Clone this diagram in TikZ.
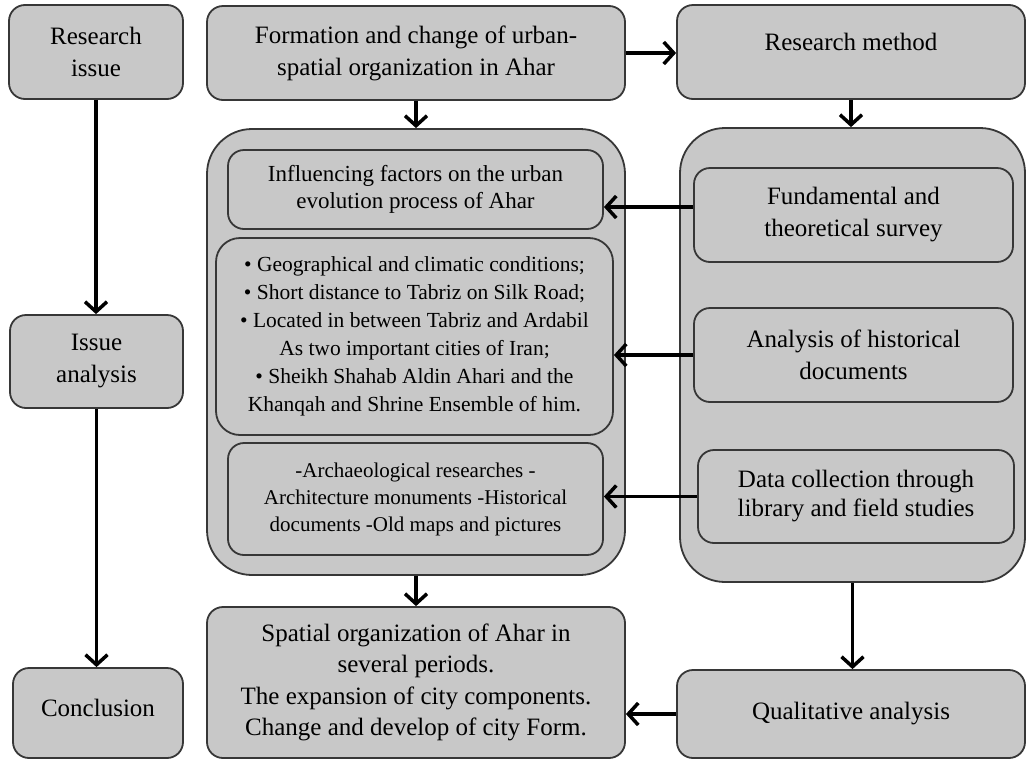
\documentclass[tikz,border=0pt]{standalone}
\usepackage{fontspec}
\setmainfont{Liberation Serif}
\usetikzlibrary{arrows.meta,calc}
\definecolor{boxfill}{RGB}{200,200,200}
\definecolor{boxline}{RGB}{55,55,55}
\begin{document}
\begin{tikzpicture}[x=1pt,y=-1pt,
  box/.style={draw=boxline, fill=boxfill, line width=1.8pt, rounded corners=16pt,
    align=center, inner sep=0pt, font=\fontsize{25}{32}\selectfont},
  big/.style={box, rounded corners=45pt},
  arr/.style={line width=3.5pt, -{Straight Barb[length=10pt,width=22pt]}}]
\useasboundingbox (0,0) rectangle (1027,761);

% containers
\node[big, minimum width=418pt, minimum height=446pt] (lc) at (416,352) {};
\node[big, minimum width=345pt, minimum height=454pt] (rc) at (852.5,355) {};

% left column
\node[box, minimum width=174pt, minimum height=94pt] (ri) at (96,52) {Research\\issue};
\node[box, minimum width=173pt, minimum height=93pt] (ia) at (96.5,361.5) {Issue\\analysis};
\node[box, minimum width=170pt, minimum height=90pt] (co) at (98,713) {\raisebox{5pt}[\height][\depth]{Conclusion}};

% top row
\node[box, minimum width=418pt, minimum height=94pt] (fo) at (416,53)
  {Formation and change of urban-\\spatial organization in Ahar};
\node[box, minimum width=348pt, minimum height=94pt] (rm) at (851,52)
  {\raisebox{10pt}[\height][\depth]{Research method}};

% inside left container
\node[box, minimum width=375pt, minimum height=79pt, font=\fontsize{23}{27}\selectfont] (in) at (415.5,189.5)
  {Influencing factors on the urban\\evolution process of Ahar};
\node[box, rounded corners=24pt, minimum width=397pt, minimum height=197pt, font=\fontsize{21.5}{28}\selectfont] (bu) at (414.5,336.5)
  {• Geographical and climatic conditions;\\
   • Short distance to Tabriz on Silk Road;\\
   • Located in between Tabriz and Ardabil\\
   As two important cities of Iran;\\
   • Sheikh Shahab Aldin Ahari and the\\
   Khanqah and Shrine Ensemble of him.};
\node[box, minimum width=375pt, minimum height=112pt, font=\fontsize{21}{27}\selectfont] (ar) at (415.5,499)
  {-Archaeological researches -\\
   Architecture monuments -Historical\\
   documents -Old maps and pictures};

% inside right container
\node[box, minimum width=319pt, minimum height=94pt] (fu) at (853.5,215)
  {Fundamental and\\theoretical survey};
\node[box, minimum width=319pt, minimum height=94pt] (an) at (853.5,355)
  {Analysis of historical\\documents};
\node[box, minimum width=316pt, minimum height=93pt, font=\fontsize{25}{29}\selectfont] (da) at (856,496.5)
  {Data collection through\\library and field studies};

% bottom row
\node[box, minimum width=418pt, minimum height=151pt, font=\fontsize{25}{31.5}\selectfont] (sp) at (416,682.5)
  {Spatial organization of Ahar in\\several periods.\\The expansion of city components.\\Change and develop of city Form.};
\node[box, minimum width=348pt, minimum height=88pt] (qu) at (851,714)
  {Qualitative analysis};

% connectors
\draw[arr] (ri.south) -- (ri.south |- ia.north);
\draw[arr] (ia.south) -- (ia.south |- co.north);
\draw[arr] (fo.east) -- (fo.east -| rm.west);
\draw[arr] (fo.south) -- (fo.south |- lc.north);
\draw[arr] (rm.south) -- (rm.south |- rc.north);
\draw[arr] ([yshift=8pt]fu.west) -- ([yshift=8pt]fu.west -| in.east);
\draw[arr] (an.west) -- (an.west -| bu.east);
\draw[arr] (da.west) -- (da.west -| ar.east);
\draw[arr] (lc.south) -- (lc.south |- sp.north);
\draw[arr] (rc.south) -- (rc.south |- qu.north);
\draw[arr] (qu.west) -- (qu.west -| sp.east);
\end{tikzpicture}
\end{document}
